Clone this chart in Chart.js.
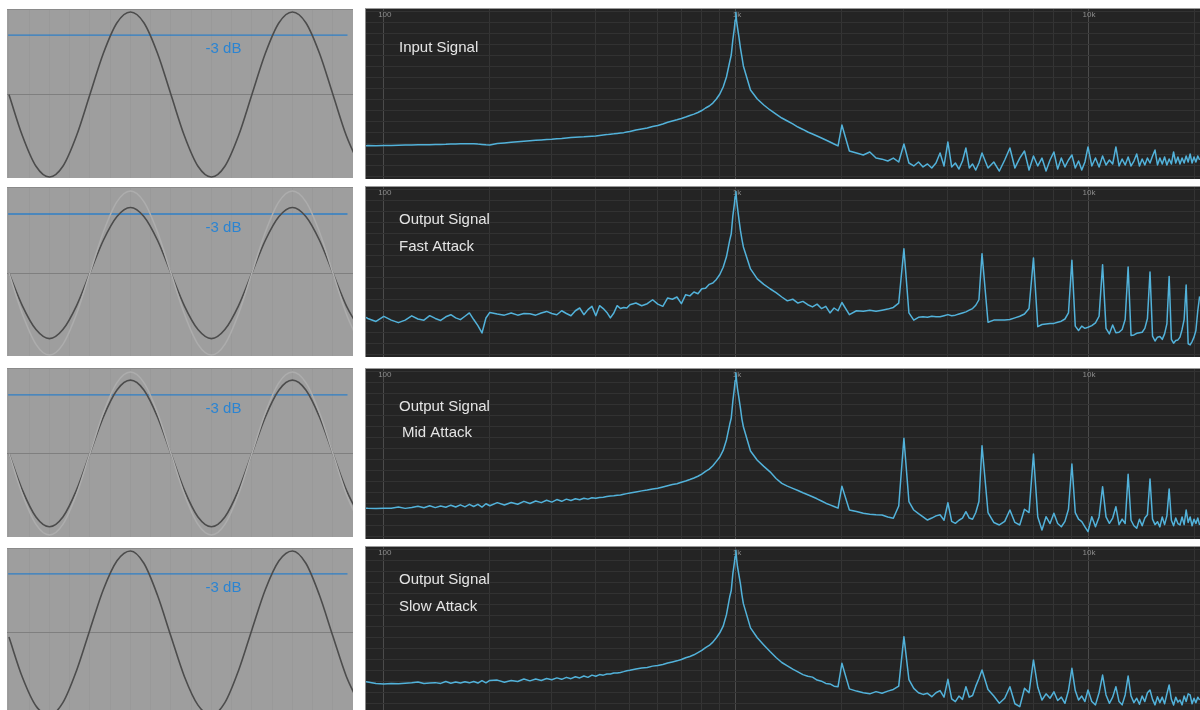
<!DOCTYPE html>
<html>
<head>
<meta charset="utf-8">
<script src="https://cdn.jsdelivr.net/npm/chart.js"></script>
<style>
html, body { margin: 0; padding: 0; background: #fff; width: 1200px; height: 710px; overflow: hidden; }
.box { position: absolute; }
.box canvas { display: block; }
.wave { border-top: 1px solid #8a8a8a; }
.spec { border-top: 1px solid #9a9a9a; border-left: 1px solid #8a8a8a; }
</style>
</head>
<body>
<script>
// ---- waveform panels (time in ms, amplitude relative to full scale) ----
const waveTime = [0, 0.083, 0.167, 0.25, 0.333, 0.417, 0.5, 0.583, 0.667, 0.75, 0.833, 0.917,
  1.0, 1.083, 1.167, 1.25, 1.333, 1.417, 1.5, 1.583, 1.667, 1.75, 1.833, 1.917, 2.0, 2.083, 2.167]
const inputWave = [0, -0.5, -0.87, -1, -0.87, -0.5, 0, 0.5, 0.87, 1, 0.87, 0.5,
  0, -0.5, -0.87, -1, -0.87, -0.5, 0, 0.5, 0.87, 1, 0.87, 0.5, 0, -0.5, -0.87]
const fastWave = [0, -0.4, -0.69, -0.8, -0.69, -0.4, 0, 0.4, 0.69, 0.8, 0.69, 0.4,
  0, -0.4, -0.69, -0.8, -0.69, -0.4, 0, 0.4, 0.69, 0.8, 0.69, 0.4, 0, -0.4, -0.69]
const midWave = [0, -0.45, -0.78, -0.9, -0.78, -0.45, 0, 0.45, 0.78, 0.9, 0.78, 0.45,
  0, -0.45, -0.78, -0.9, -0.78, -0.45, 0, 0.45, 0.78, 0.9, 0.78, 0.45, 0, -0.45, -0.78]
const slowWave = [-0.05, -0.54, -0.89, -1, -0.85, -0.46, 0.04, 0.53, 0.88, 1, 0.85, 0.46,
  -0.04, -0.53, -0.88, -1, -0.85, -0.46, 0.04, 0.53, 0.88, 1, 0.85, 0.46, -0.04, -0.53, -0.88]
const minus3dB = 0.72
const waveGridTimes = [0, 0.125, 0.25, 0.375, 0.5, 0.625, 0.75, 0.875, 1, 1.125, 1.25, 1.375, 1.5, 1.625, 1.75, 1.875, 2]

// ---- spectrum panels (Hz / dB) ----
const freqHz = [
  89, 90, 95, 100, 105, 110, 115, 120, 125, 130,
  135, 140, 145, 150, 155, 160, 165, 170, 175, 180,
  185, 190, 195, 200,
  210, 220, 230, 240, 250, 260, 270, 280, 290, 300,
  310, 320, 330, 340, 350, 360, 370, 380, 390, 400,
  410, 420, 430, 440, 450, 460, 470, 480, 490, 500,
  520, 540, 560, 580, 600, 620, 640, 660, 680, 700,
  720, 740, 760, 780, 800, 820, 840, 860, 880, 900,
  920, 940, 960, 970, 980, 990, 995,
  1000, 1005, 1010, 1020, 1030, 1040, 1050,
  1100, 1150, 1200, 1250, 1300, 1350, 1400, 1450, 1500, 1550,
  1600, 1650, 1700, 1750, 1800, 1850, 1900, 1950, 2000,
  2100, 2200, 2300, 2400, 2500, 2600, 2700, 2800, 2900, 3000,
  3100, 3200, 3300, 3400, 3500, 3600, 3700, 3800, 3900, 4000,
  4100, 4200, 4300, 4400, 4500, 4600, 4700, 4800, 4900, 5000,
  5200, 5400, 5600, 5800, 6000, 6200, 6400, 6600, 6800, 7000,
  7200, 7400, 7600, 7800, 8000, 8200, 8400, 8600, 8800, 9000,
  9200, 9400, 9600, 9800, 10000,
  10250, 10500, 10750, 11000, 11250, 11500, 11750, 12000, 12250, 12500,
  12750, 13000, 13250, 13500, 13750, 14000, 14250, 14500, 14750, 15000,
  15250, 15500, 15750, 16000, 16250, 16500, 16750, 17000, 17250, 17500,
  17750, 18000, 18250, 18500, 18750, 19000, 19250, 19500, 19750, 20000,
  20250, 20500, 20750
]

const inputDb = [
  -121.8, -121.6, -121.9, -121.6, -121.5, -121.4, -121.2, -121.1, -121.0, -120.9,
  -120.8, -120.7, -120.6, -120.5, -120.3, -120.2, -120.1, -120.0, -120.0, -119.9,
  -120.3, -120.6, -121.0, -121.2,
  -119.8, -119.3, -118.7, -118.2, -117.7, -117.3, -116.9, -116.5, -116.1, -115.9,
  -115.5, -115.2, -114.8, -114.4, -114.1, -113.9, -113.7, -113.4, -113.2, -113.0,
  -112.5, -112.0, -111.7, -111.3, -111.0, -110.6, -110.2, -109.9, -109.3, -108.9,
  -107.5, -106.6, -105.7, -104.4, -103.4, -102.0, -100.5, -99.3, -98.2, -97.0,
  -95.7, -94.3, -93.1, -91.6, -89.8, -87.5, -85.7, -83.0, -79.3, -74.8,
  -68.4, -59.3, -45.7, -39.3, -25.7, -14.8, -7.5,
  -0.5, -9.3, -13.9, -23.0, -33.0, -41.1, -49.3,
  -71.1, -79.3, -84.8, -89.3, -93.0, -96.6, -99.3, -102.0, -104.8, -107.0,
  -109.3, -111.1, -113.0, -114.8, -116.6, -118.4, -120.2, -122.0, -103.0,
  -126.6, -128.4, -130.2, -127.5, -133.0, -134.0, -135.7, -133.0, -136.6, -120.2,
  -137.5, -140.2, -136.6, -141.1, -138.4, -142.0, -137.5, -128.4, -140.2, -118.4,
  -141.1, -137.5, -143.0, -135.7, -123.9, -142.0, -138.4, -143.9, -137.5, -128.4,
  -142.0, -136.6, -144.8, -134.8, -123.9, -142.0, -133.0, -126.6, -143.9, -131.1,
  -140.2, -133.0, -144.8, -134.8, -127.5, -143.0, -133.0, -141.1, -134.8, -130.2,
  -142.0, -135.7, -143.9, -136.6, -122.9,
  -140.2, -133.0, -141.1, -131.1, -139.3, -134.8, -138.4, -122.9, -140.2, -133.9,
  -139.3, -132.0, -140.2, -135.7, -129.3, -140.2, -133.9, -139.3, -133.0, -137.5,
  -131.1, -125.7, -139.3, -133.0, -138.4, -132.0, -139.3, -133.9, -138.4, -127.5,
  -137.5, -132.0, -138.4, -133.0, -137.5, -131.1, -136.6, -129.3, -137.5, -132.0,
  -136.6, -131.1, -134.8
]

const fastDb = [
  -116.0, -117.0, -119.7, -115.1, -118.5, -120.8, -118.5, -114.6, -117.5, -118.6,
  -114.5, -117.0, -118.8, -115.5, -113.6, -116.5, -118.1, -115.0, -112.0, -118.0,
  -123.5, -130.2, -116.6, -111.5,
  -113.0, -114.0, -112.0, -114.0, -112.5, -112.8, -114.0, -112.0, -110.6, -112.5,
  -113.6, -110.0, -112.5, -114.5, -110.0, -107.5, -113.6, -109.0, -106.0, -114.5,
  -105.4, -108.0, -111.5, -116.5, -112.0, -105.4, -108.0, -107.0, -107.5, -104.5,
  -103.0, -105.5, -103.6, -100.0, -104.0, -106.0, -98.4, -99.5, -97.5, -103.6,
  -95.4, -96.5, -93.0, -94.5, -90.0, -89.5, -86.0, -84.8, -81.5, -77.0,
  -70.5, -61.0, -46.0, -40.0, -24.0, -13.0, -6.0,
  -1.5, -10.0, -16.0, -27.0, -37.0, -45.0, -52.0,
  -72.0, -81.0, -86.0, -90.0, -93.5, -97.5, -101.0, -99.5, -103.0, -101.5,
  -104.5, -106.5, -104.0, -108.0, -106.0, -112.0, -107.5, -110.0, -102.5,
  -113.5, -110.0, -110.5, -109.5, -110.5, -109.5, -108.5, -107.0, -103.0, -53.6,
  -112.0, -118.5, -116.0, -115.5, -116.0, -115.0, -115.5, -115.5, -114.5, -113.5,
  -114.5, -114.0, -113.0, -112.0, -111.0, -109.5, -108.0, -105.0, -100.0, -58.1,
  -120.5, -118.5, -118.5, -118.5, -118.0, -116.5, -115.0, -113.0, -108.0, -62.0,
  -124.5, -122.5, -122.0, -121.5, -121.5, -120.5, -119.5, -117.5, -112.0, -64.2,
  -124.0, -128.0, -124.0, -126.0, -125.0,
  -123.5, -121.0, -115.0, -68.1, -126.0, -131.0, -123.0, -130.0, -129.5, -127.0,
  -118.0, -70.2, -132.5, -132.0, -130.5, -130.0, -129.5, -126.0, -117.0, -74.8,
  -133.0, -137.5, -134.0, -133.5, -136.0, -131.0, -122.0, -78.8, -136.0, -139.5,
  -137.0, -136.5, -134.0, -127.0, -118.0, -86.6, -140.0, -141.0, -138.0, -134.0,
  -128.0, -110.0, -97.0
]

const midDb = [
  -124.0, -124.1, -124.3, -124.2, -124.0, -123.0, -124.2, -123.5, -122.3, -123.6,
  -121.8, -123.5, -122.0, -123.2, -121.3, -123.0, -121.0, -122.8, -120.5, -122.5,
  -120.5, -123.0, -120.0, -121.8,
  -119.0, -121.2, -118.8, -120.5, -117.8, -119.8, -117.5, -119.0, -116.8, -118.5,
  -116.2, -117.8, -115.8, -117.0, -115.4, -116.3, -115.0, -115.8, -114.6, -115.0,
  -114.3, -114.0, -113.5, -113.0, -112.8, -112.3, -112.0, -111.3, -110.8, -110.3,
  -109.3, -108.3, -107.5, -106.5, -106.0, -104.8, -103.6, -102.5, -101.8, -100.5,
  -99.3, -98.0, -96.6, -95.0, -93.0, -90.5, -88.5, -85.5, -81.5, -77.5,
  -71.5, -62.0, -48.0, -42.0, -27.0, -15.0, -8.0,
  -1.0, -9.0, -15.0, -24.0, -33.0, -43.0, -50.0,
  -72.0, -80.5, -86.0, -91.0, -97.0, -101.5, -104.0, -106.0, -108.0, -110.0,
  -111.8, -113.6, -115.5, -117.5, -119.5, -121.0, -122.5, -124.0, -104.0,
  -125.7, -127.0, -128.7, -129.5, -130.0, -130.2, -132.0, -133.2, -122.0, -60.5,
  -118.0, -125.7, -129.0, -132.0, -134.8, -133.0, -131.0, -130.0, -135.0, -119.1,
  -136.0, -137.8, -135.0, -133.0, -127.2, -133.0, -134.1, -128.0, -118.0, -67.2,
  -128.0, -137.0, -139.3, -136.0, -125.7, -137.0, -139.3, -125.0, -128.0, -74.8,
  -132.0, -143.9, -131.8, -138.0, -128.7, -138.0, -140.9, -136.0, -125.0, -83.9,
  -128.0, -134.0, -136.3, -141.0, -145.4,
  -131.8, -141.0, -132.0, -104.5, -132.0, -137.8, -133.0, -122.7, -139.0, -134.0,
  -138.0, -93.2, -135.0, -140.0, -142.3, -134.0, -140.0, -133.0, -130.0, -97.5,
  -134.0, -139.0, -136.3, -141.0, -132.0, -139.0, -131.0, -106.6, -135.0, -140.0,
  -133.0, -138.0, -139.3, -132.0, -139.0, -125.7, -137.0, -132.0, -140.0, -134.0,
  -138.0, -133.0, -139.3
]

const slowDb = [
  -120.0, -120.2, -121.5, -122.0, -121.5, -121.8, -121.3, -121.0, -120.2, -121.5,
  -121.2, -120.8, -121.5, -119.8, -121.3, -120.2, -121.2, -120.0, -121.0, -119.8,
  -121.2, -119.0, -121.0, -118.8,
  -118.5, -120.5, -118.8, -119.8, -117.5, -119.2, -117.5, -118.8, -117.0, -118.2,
  -116.5, -117.8, -116.0, -117.2, -115.5, -116.5, -114.8, -116.0, -114.0, -115.0,
  -113.5, -114.0, -113.0, -113.0, -112.0, -112.0, -111.5, -110.8, -110.0, -109.6,
  -108.5, -107.5, -107.0, -105.8, -105.2, -104.3, -103.0, -102.0, -101.0, -99.8,
  -98.2, -97.0, -95.5, -93.5, -91.5, -89.0, -87.0, -84.0, -80.0, -75.5,
  -69.5, -59.0, -43.0, -37.0, -22.0, -12.0, -6.0,
  -0.5, -9.0, -15.0, -23.0, -31.0, -41.0, -49.0,
  -71.0, -80.0, -86.5, -92.5, -98.0, -102.5, -105.5, -108.5, -111.0, -113.5,
  -115.0, -115.8, -118.5, -119.5, -121.5, -122.0, -124.0, -124.5, -103.2,
  -126.5, -128.5, -130.0, -131.0, -129.0, -130.5, -128.5, -127.0, -124.0, -79.0,
  -118.0, -126.0, -130.0, -131.5, -130.5, -133.6, -130.0, -128.0, -134.0, -117.8,
  -135.5, -138.1, -133.0, -136.0, -124.5, -134.0, -132.5, -124.0, -117.0, -109.3,
  -127.0, -133.0, -139.6, -135.0, -124.5, -140.0, -142.7, -126.0, -130.0, -100.2,
  -125.0, -136.6, -131.0, -135.0, -129.1, -137.0, -134.0, -139.6, -128.0, -107.8,
  -128.0, -136.6, -133.0, -138.0, -127.5,
  -138.0, -141.0, -130.0, -113.9, -132.0, -139.6, -134.0, -124.5, -138.0, -141.0,
  -132.0, -114.8, -133.0, -139.0, -135.0, -140.5, -133.0, -138.0, -130.0, -127.5,
  -136.0, -141.0, -133.6, -139.0, -134.0, -140.0, -131.0, -123.0, -136.0, -141.1,
  -134.0, -138.5, -136.6, -141.0, -133.0, -138.0, -131.0, -132.0, -140.0, -135.0,
  -139.0, -134.0, -136.6
]

const freqGrid = [100, 200, 300, 400, 500, 600, 700, 800, 900,
  1000, 2000, 3000, 4000, 5000, 6000, 7000, 8000, 9000, 10000, 20000]
const freqLabels = [[100, '100'], [1000, '1k'], [10000, '10k']]
const dbGrid = [0, -10, -20, -30, -40, -50, -60, -70, -80, -90, -100, -110, -120, -130, -140, -150]

// ---- layout ----
const waveRows = [
  {top: 10, h: 168, yMin: -1.012, yMax: 1.024, wave: inputWave, ghost: false},
  {top: 188, h: 168, yMin: -1.012, yMax: 1.037, wave: fastWave, ghost: true},
  {top: 369, h: 168, yMin: -1.025, yMax: 1.037, wave: midWave, ghost: true},
  {top: 549, h: 161, yMin: -0.939, yMax: 1.024, wave: slowWave, ghost: false},
]
const specRows = [
  {top: 9, h: 170, db: inputDb, labels: [['Input Signal', 38.5]]},
  {top: 187, h: 170, db: fastDb, labels: [['Output Signal', 33], ['Fast Attack', 60]]},
  {top: 369, h: 170, db: midDb, labels: [['Output Signal', 38], ['Mid Attack', 63.5, 3]]},
  {top: 547, h: 163, db: slowDb, labels: [['Output Signal', 33], ['Slow Attack', 60]]},
]

const FONT = '"Liberation Sans", Arial, Helvetica, sans-serif'

function toXY(xs, ys) {
  return xs.map((x, i) => ({x: x, y: ys[i]}))
}

function makeCanvas(cls, left, top, w, h, bg) {
  const box = document.createElement('div')
  box.className = 'box ' + cls
  const bl = cls === 'spec' ? 1 : 0
  box.style.left = (left - bl) + 'px'
  box.style.top = (top - 1) + 'px'
  const c = document.createElement('canvas')
  c.width = w
  c.height = h
  c.style.width = w + 'px'
  c.style.height = h + 'px'
  c.style.background = bg
  box.appendChild(c)
  document.body.appendChild(box)
  return c
}

const hiddenAxis = {
  ticks: {display: false},
  border: {display: false},
}

waveRows.forEach(row => {
  const canvas = makeCanvas('wave', 7, row.top, 346, row.h, '#9e9e9e')
  const datasets = []
  if (row.ghost) {
    datasets.push({data: toXY(waveTime, inputWave), borderColor: '#adadad', borderWidth: 1.5})
  }
  datasets.push({data: toXY(waveTime, row.wave), borderColor: '#4c4c4c', borderWidth: 1.6})
  datasets.push({data: [{x: -0.005, y: minus3dB}, {x: 2.09, y: minus3dB}],
    borderColor: '#2f7fc6', borderWidth: 1.3})

  const dbText = {
    id: 'dbText',
    afterDraw(chart) {
      const {ctx, chartArea, scales: {y}} = chart
      ctx.save()
      ctx.fillStyle = '#2b84d2'
      ctx.font = '15px ' + FONT
      ctx.textAlign = 'center'
      ctx.textBaseline = 'middle'
      ctx.fillText('-3 dB', chartArea.left + 216.5, y.getPixelForValue(minus3dB) + 14)
      ctx.restore()
    }
  }

  new Chart(canvas, {
    type: 'line',
    data: {datasets: datasets},
    options: {
      responsive: false,
      animation: false,
      devicePixelRatio: 1,
      events: [],
      layout: {padding: 0},
      elements: {point: {radius: 0}, line: {cubicInterpolationMode: 'monotone'}},
      plugins: {legend: {display: false}, tooltip: {enabled: false}},
      scales: {
        x: Object.assign({}, hiddenAxis, {
          type: 'linear', min: -0.012, max: 2.124,
          afterBuildTicks: s => { s.ticks = waveGridTimes.map(v => ({value: v})) },
          grid: {color: 'rgba(0,0,0,0.03)', drawTicks: false}
        }),
        y: Object.assign({}, hiddenAxis, {
          type: 'linear', min: row.yMin, max: row.yMax,
          afterBuildTicks: s => { s.ticks = [{value: 0}] },
          grid: {color: '#7f7f7f', drawTicks: false}
        })
      }
    },
    plugins: [dbText]
  })
})

specRows.forEach(row => {
  const canvas = makeCanvas('spec', 366, row.top, 834, row.h, '#242424')

  const specText = {
    id: 'specText',
    beforeDatasetsDraw(chart) {
      const {ctx, chartArea, scales: {x}} = chart
      ctx.save()
      ctx.fillStyle = '#8c8c8c'
      ctx.font = '8px ' + FONT
      ctx.textAlign = 'center'
      ctx.textBaseline = 'middle'
      freqLabels.forEach(([v, t]) => ctx.fillText(t, x.getPixelForValue(v) + 1, chartArea.top + 6))
      ctx.restore()
    },
    afterDraw(chart) {
      const {ctx, chartArea} = chart
      ctx.save()
      ctx.fillStyle = '#e4e4e4'
      ctx.font = '15px ' + FONT
      ctx.textAlign = 'left'
      ctx.textBaseline = 'middle'
      row.labels.forEach(([t, dy, dx]) => ctx.fillText(t, chartArea.left + 33 + (dx || 0), chartArea.top + dy))
      ctx.restore()
    }
  }

  new Chart(canvas, {
    type: 'line',
    data: {datasets: [{
      data: toXY(freqHz, row.db),
      borderColor: '#52b2da',
      borderWidth: 1.5,
      borderJoinStyle: 'round',
      tension: 0
    }]},
    options: {
      responsive: false,
      animation: false,
      devicePixelRatio: 1,
      events: [],
      layout: {padding: 0},
      elements: {point: {radius: 0}},
      plugins: {legend: {display: false}, tooltip: {enabled: false}},
      scales: {
        x: Object.assign({}, hiddenAxis, {
          type: 'logarithmic', min: 89, max: 20800,
          afterBuildTicks: s => { s.ticks = freqGrid.map(v => ({value: v})) },
          grid: {
            color: c => (c.tick && [100, 1000, 10000].includes(c.tick.value)) ? '#4b4b4b' : '#343434',
            drawTicks: false
          }
        }),
        y: Object.assign({}, hiddenAxis, {
          type: 'linear', min: 2.5 - row.h / 1.1, max: 2.5,
          afterBuildTicks: s => { s.ticks = dbGrid.map(v => ({value: v})) },
          grid: {color: '#323232', drawTicks: false}
        })
      }
    },
    plugins: [specText]
  })
})
</script>
</body>
</html>
